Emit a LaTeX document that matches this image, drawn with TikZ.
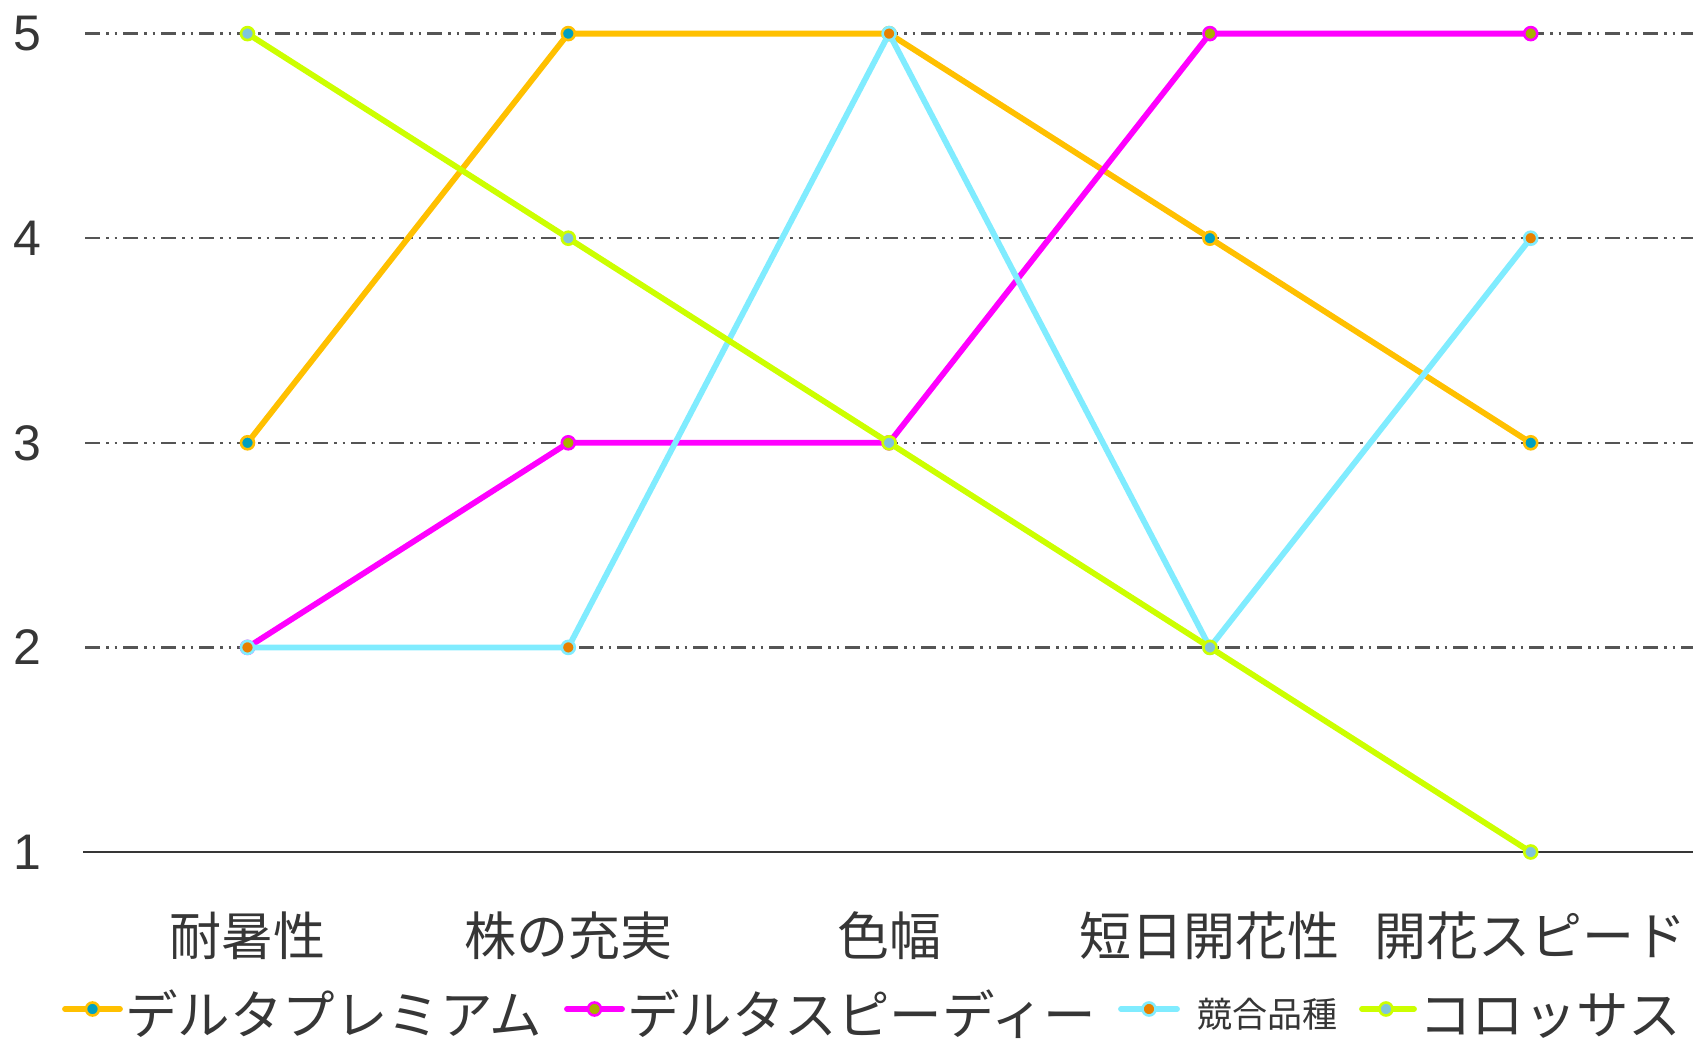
\documentclass[tikz,border=0pt]{standalone}
\usepackage{fontspec}
\newfontfamily\jpfont{Noto Sans CJK JP}
\newfontfamily\numfont{Liberation Sans}
\definecolor{txt}{HTML}{363636}
\definecolor{gridc}{HTML}{555555}
\definecolor{cOr}{HTML}{FFC000}
\definecolor{cMa}{HTML}{FF00FF}
\definecolor{cCy}{HTML}{80ECFF}
\definecolor{cLi}{HTML}{CCFF00}
\definecolor{fOr}{HTML}{00A0C0}
\definecolor{fMa}{HTML}{A8B000}
\definecolor{fCy}{HTML}{E88000}
\definecolor{fLi}{HTML}{80C4DA}
\begin{document}
\begin{tikzpicture}[x=1pt,y=-1pt,
  gridline/.style={gridc,line width=2.4pt,dash pattern=on 15pt off 6pt on 2.5pt off 6pt on 2.5pt off 6pt},
  axisline/.style={txt,line width=2.2pt},
  series/.style={line width=5.8pt,line join=round,line cap=round,#1},
  mk/.style n args={2}{circle,inner sep=0pt,minimum size=13pt,line width=2.6pt,draw=#1,fill=#2},
  ylab/.style={anchor=east,inner sep=0pt,text=txt,font=\numfont\fontsize{50}{56}\selectfont},
  cat/.style={anchor=base,inner sep=0pt,text=txt,font=\jpfont\fontsize{52}{60}\selectfont},
  leg/.style={anchor=base west,inner sep=0pt,text=txt,font=\jpfont\fontsize{52.5}{60}\selectfont},
  legsmall/.style={anchor=base west,inner sep=0pt,text=txt,font=\jpfont\fontsize{35}{42}\selectfont}]
\useasboundingbox (0,0) rectangle (1695,1045);
\fill[white] (0,0) rectangle (1695,1045);

% grid
\foreach \v in {2,3,4,5}{
  \coordinate (gl\v) at (85,{852-204.6*(\v-1)});
  \coordinate (gr\v) at (1693,{852-204.6*(\v-1)});
  \draw[gridline] (gl\v) -- (gr\v);
  \node[ylab] (yl\v) at (42,{852-204.6*(\v-1)}) {\v};
}
\coordinate (gl1) at (83,852);
\coordinate (gr1) at (1693,852);
\draw[axisline] (gl1) -- (gr1);
\node[ylab] (yl1) at (42,852) {1};

% category labels
\foreach \t [count=\i from 0] in {耐暑性,株の充実,色幅,短日開花性,開花スピード}
  \node[cat] (cat\i) at ({247.5+320.8*\i},955) {\t};

% series coordinates
\foreach \v [count=\i from 0] in {3,5,5,4,3}
  \coordinate (a\i) at ({247.5+320.8*\i},{852-204.6*(\v-1)});
\foreach \v [count=\i from 0] in {2,3,3,5,5}
  \coordinate (b\i) at ({247.5+320.8*\i},{852-204.6*(\v-1)});
\foreach \v [count=\i from 0] in {2,2,5,2,4}
  \coordinate (c\i) at ({247.5+320.8*\i},{852-204.6*(\v-1)});
\foreach \v [count=\i from 0] in {5,4,3,2,1}
  \coordinate (d\i) at ({247.5+320.8*\i},{852-204.6*(\v-1)});

% series A
\draw[series=cOr] (a0) -- (a1) -- (a2) -- (a3) -- (a4);
\foreach \i in {0,...,4} \node[mk={cOr}{fOr}] (ma\i) at (a\i) {};
% series B
\draw[series=cMa] (b0) -- (b1) -- (b2) -- (b3) -- (b4);
\foreach \i in {0,...,4} \node[mk={cMa}{fMa}] (mb\i) at (b\i) {};
% series C
\draw[series=cCy] (c0) -- (c1) -- (c2) -- (c3) -- (c4);
\foreach \i in {0,...,4} \node[mk={cCy}{fCy}] (mc\i) at (c\i) {};
% series D
\draw[series=cLi] (d0) -- (d1) -- (d2) -- (d3) -- (d4);
\foreach \i in {0,...,4} \node[mk={cLi}{fLi}] (md\i) at (d\i) {};

% legend
\coordinate (la1) at (65,1009); \coordinate (la2) at (120,1009);
\draw[series=cOr] (la1) -- (la2);
\node[mk={cOr}{fOr}] (lma) at (92.5,1009) {};
\node[leg] (lta) at (125,1034) {デルタプレミアム};

\coordinate (lb1) at (567,1009); \coordinate (lb2) at (622,1009);
\draw[series=cMa] (lb1) -- (lb2);
\node[mk={cMa}{fMa}] (lmb) at (594.5,1009) {};
\node[leg] (ltb) at (627,1034) {デルタスピーディー};

\coordinate (lc1) at (1121,1009); \coordinate (lc2) at (1177,1009);
\draw[series=cCy] (lc1) -- (lc2);
\node[mk={cCy}{fCy}] (lmc) at (1149,1009) {};
\node[legsmall] (ltc) at (1197,1027) {競合品種};

\coordinate (ld1) at (1362,1009); \coordinate (ld2) at (1414,1009);
\draw[series=cLi] (ld1) -- (ld2);
\node[mk={cLi}{fLi}] (lmd) at (1386,1009) {};
\node[leg] (ltd) at (1419,1034) {コロッサス};
\end{tikzpicture}
\end{document}
